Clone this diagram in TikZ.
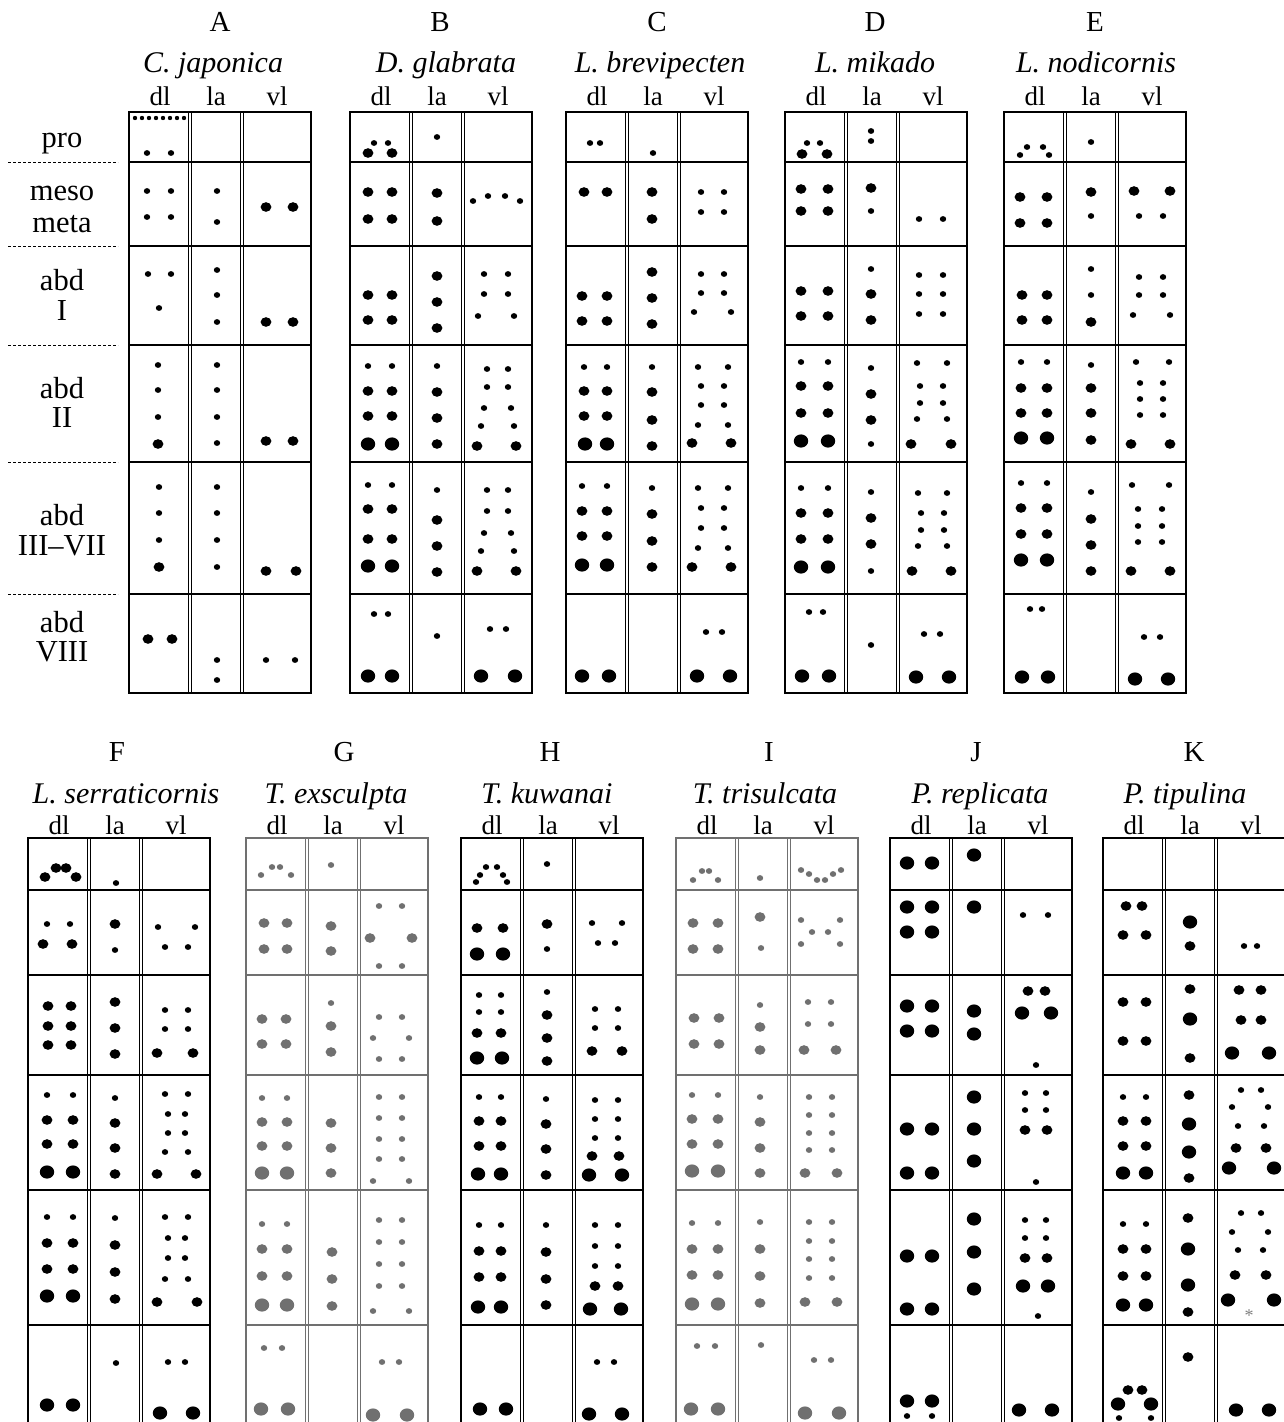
\documentclass[tikz,border=0pt]{standalone}
\usepackage{fontspec}
\setmainfont{Liberation Serif}
\definecolor{gpanel}{HTML}{707070}
\newcommand\spS[1]{\foreach \xa/\ya in {#1} {\fill (\xa,\ya) ellipse (3.2pt and 2.9pt);}}
\newcommand\spM[1]{\foreach \xa/\ya in {#1} {\fill (\xa,\ya) ellipse (5.4pt and 4.8pt);}}
\newcommand\spL[1]{\foreach \xa/\ya in {#1} {\fill (\xa,\ya) ellipse (7.2pt and 6.6pt);}}
\newcommand\spT[1]{\foreach \xa/\ya in {#1} {\fill (\xa,\ya) circle (2.2pt);}}
\newcommand\topframe{%
 \draw[rowl] (0,162) -- (182,162) (0,246) -- (182,246) (0,345) -- (182,345) (0,462) -- (182,462) (0,594) -- (182,594);
 \draw[coll] (59.6,112) -- (59.6,693) (62.4,112) -- (62.4,693) (111.6,112) -- (111.6,693) (114.4,112) -- (114.4,693);
 \draw[frm] (0,112) rectangle (182,693);}
\newcommand\botframe{%
 \draw[rowl] (0,890) -- (182,890) (0,975) -- (182,975) (0,1075) -- (182,1075) (0,1190) -- (182,1190) (0,1325) -- (182,1325);
 \draw[coll] (59.6,838) -- (59.6,1445) (62.4,838) -- (62.4,1445) (111.6,838) -- (111.6,1445) (114.4,838) -- (114.4,1445);
 \draw[frm] (0,838) rectangle (182,1445);}
\newcommand\colheads[2]{% #1 panel left, #2 baseline
 \node[colh] at (#1+31,#2) {dl};
 \node[colh] at (#1+87,#2) {la};
 \node[colh] at (#1+148,#2) {vl};}
\begin{document}
\begin{tikzpicture}[x=1pt,y=-1pt,
  rowl/.style={line width=1.1pt},
  coll/.style={line width=0.9pt},
  frm/.style={line width=2.2pt},
  lett/.style={anchor=base,inner sep=0pt,font=\fontsize{29}{30}\selectfont},
  spec/.style={anchor=base,inner sep=0pt,font=\fontsize{30}{32}\selectfont\itshape},
  colh/.style={anchor=base,inner sep=0pt,font=\fontsize{27}{28}\selectfont},
  rowlab/.style={anchor=base,inner sep=0pt,font=\fontsize{30.5}{32}\selectfont},
  sep/.style={line width=1pt,dash pattern=on 3pt off 2pt}]
\useasboundingbox (0,0) rectangle (1284,1422);
\clip (0,0) rectangle (1284,1422);
\fill[white] (0,0) rectangle (1284,1422);

% ---------- row labels ----------
\node[rowlab] (rpro) at (62,147) {pro};
\node[rowlab] (rmeso) at (62,200) {meso};
\node[rowlab] (rmeta) at (62,232) {meta};
\node[rowlab] (rabd1) at (62,290) {abd};
\node[rowlab] (rI) at (62,320) {I};
\node[rowlab] (rabd2) at (62,398) {abd};
\node[rowlab] (rII) at (62,427) {II};
\node[rowlab] (rabd3) at (62,525) {abd};
\node[rowlab] (rIII) at (62,555) {III--VII};
\node[rowlab] (rabd8) at (62,632) {abd};
\node[rowlab] (rVIII) at (62,661) {VIII};
\draw[sep] (8,162) -- (118,162) (8,246) -- (118,246) (8,345) -- (118,345) (8,462) -- (118,462) (8,594) -- (118,594);

% ---------- headers ----------
\node[lett] (hA) at (220,31) {A};
\node[lett] (hB) at (440,31) {B};
\node[lett] (hC) at (657,31) {C};
\node[lett] (hD) at (875,31) {D};
\node[lett] (hE) at (1095,31) {E};
\node[spec] (sA) at (213,72) {C.\ japonica};
\node[spec] (sB) at (446,72) {D.\ glabrata};
\node[spec] (sC) at (660,72) {L.\ brevipecten};
\node[spec] (sD) at (875,72) {L.\ mikado};
\node[spec] (sE) at (1096,72) {L.\ nodicornis};
\colheads{129}{105}\colheads{350}{105}\colheads{566}{105}\colheads{785}{105}\colheads{1004}{105}

\node[lett] (hF) at (117,761) {F};
\node[lett] (hG) at (344,761) {G};
\node[lett] (hH) at (550,761) {H};
\node[lett] (hI) at (769,761) {I};
\node[lett] (hJ) at (976,761) {J};
\node[lett] (hK) at (1194,761) {K};
\node[spec] (sF) at (126,803) {L.\ serraticornis};
\node[spec] (sG) at (336,803) {T.\ exsculpta};
\node[spec] (sH) at (547,803) {T.\ kuwanai};
\node[spec] (sI) at (765,803) {T.\ trisulcata};
\node[spec] (sJ) at (980,803) {P.\ replicata};
\node[spec] (sK) at (1185,803) {P.\ tipulina};
\colheads{28}{834}\colheads{246}{834}\colheads{461}{834}\colheads{676}{834}\colheads{890}{834}\colheads{1103}{834}

% ---------- A ----------
\begin{scope}[shift={(129,0)}]
\topframe
\spT{6/118,13/118,20/118,27/118,34/118,41/118,48/118,55/118}
\spS{18/153,42/153, 18/191,42/191,18/217,42/217, 88/191,88/222, 19/274,42/274,30/308, 88/270,88/295,88/322,
 29/365,29/390,29/417, 88/365,88/390,88/417,88/443, 30/487,30/513,30/540, 88/487,88/513,88/540,88/567,
 88/660,88/680, 137/660,166/660}
\spM{137/207,164/207, 137/322,164/322, 29/444, 137/441,164/441, 30/567, 137/571,167/571, 19/639,43/639}
\end{scope}

% ---------- B ----------
\begin{scope}[shift={(350,0)}]
\topframe
\spS{24/143,38/143, 87/137, 123/201,138/196,155/196,170/201, 134/274,158/274,134/294,158/294,128/316,164/316,
 18/366,42/366, 87/366, 137/369,158/369,137/387,158/387,134/408,161/408,131/426,164/426,
 18/485,42/485, 87/490, 137/490,158/490,137/511,158/511,134/533,161/533,131/551,164/551,
 24/614,38/614, 87/636, 140/629,156/629}
\spM{18/153,42/153, 18/192,42/192,18/219,42/219, 87/193,87/221, 18/295,42/295,18/320,42/320, 87/276,87/302,87/328,
 18/391,42/391,18/416,42/416, 87/392,87/418,87/444, 127/446,166/446,
 18/509,42/509,18/539,42/539, 87/520,87/546,87/572, 127/571,166/571}
\spL{18/444,42/444, 18/566,42/566, 18/676,42/676, 131/676,165/676}
\end{scope}

% ---------- C ----------
\begin{scope}[shift={(566,0)}]
\topframe
\spS{24/143,34/143, 87/153, 135/192,158/192,135/212,158/212, 135/274,158/274,135/293,158/293,128/312,165/312,
 18/367,41/367, 86/367, 132/367,162/367,135/386,158/386,135/405,158/405,132/425,162/425,
 16/486,41/486, 86/488, 132/488,162/488,135/508,158/508,135/528,158/528,132/548,162/548, 140/632,156/632}
\spM{18/192,41/192, 86/192,86/219, 16/296,41/296,16/321,41/321, 86/272,86/298,86/324,
 18/391,41/391,18/416,41/416, 86/392,86/420,86/446, 126/443,165/443,
 16/511,41/511,16/536,41/536, 86/514,86/541,86/567, 126/567,165/567}
\spL{19/444,41/444, 16/565,41/565, 16/676,43/676, 131/676,164/676}
\end{scope}

% ---------- D ----------
\begin{scope}[shift={(785,0)}]
\topframe
\spS{22/143,35/143, 86/131,86/141, 86/211, 134/219,158/219, 86/269, 134/275,158/275,134/294,158/294,134/314,158/314,
 16/362,43/362, 86/368,86/444, 132/363,162/363,135/386,158/386,135/403,158/403,132/419,162/419,
 16/488,43/488, 86/492,86/571, 133/493,162/493,136/513,159/513,136/530,159/530,133/546,162/546,
 24/612,38/612, 86/645, 139/634,155/634}
\spM{17/154,42/154, 16/189,43/189,16/211,43/211, 86/188, 16/291,43/291,16/316,43/316, 86/294,86/320,
 16/386,43/386,16/413,43/413, 86/394,86/420, 126/444,166/444,
 16/513,43/513,16/539,43/539, 86/518,86/544, 127/571,166/571}
\spL{16/441,43/441, 16/567,43/567, 17/676,44/676, 131/677,164/677}
\end{scope}

% ---------- E ----------
\begin{scope}[shift={(1004,0)}]
\topframe
\spS{16/155,23/147,39/147,45/155, 87/142, 87/216, 135/216,159/216, 87/269,87/295,
 135/277,159/277,135/295,159/295,129/315,166/315,
 17/362,43/362, 87/365, 132/362,165/362,136/383,159/383,136/399,159/399,136/415,159/415,
 17/483,43/483, 87/492, 128/485,165/485,134/509,158/509,134/526,158/526,134/542,158/542,
 26/609,38/609, 140/637,156/637}
\spM{16/197,43/197,16/223,43/223, 87/192, 130/191,166/191, 18/295,43/295,18/320,43/320, 87/322,
 17/388,43/388,17/413,43/413, 87/388,87/413,87/440, 127/444,166/444,
 17/508,43/508,17/534,43/534, 87/519,87/545,87/571, 127/571,166/571}
\spL{17/438,43/438, 17/560,43/560, 18/677,44/677, 131/679,164/679}
\end{scope}

% ---------- F ----------
\begin{scope}[shift={(28,0)}]
\botframe
\spS{88/883, 19/924,42/924, 87/950, 130/927,167/927,137/947,160/947, 137/1010,160/1010,137/1029,160/1029,
 19/1095,45/1095, 87/1098, 137/1094,160/1094,140/1114,157/1114,140/1133,157/1133,137/1152,160/1152,
 19/1217,45/1217, 87/1218, 137/1217,160/1217,140/1238,157/1238,140/1258,157/1258,137/1279,160/1279,
 88/1363, 140/1362,157/1362}
\spM{17/877,28/868,38/868,48/877, 15/944,44/944, 87/924, 20/1006,43/1006,20/1026,43/1026,20/1045,43/1045,
 87/1002,87/1028,87/1054, 129/1053,165/1053, 19/1120,45/1120,19/1144,45/1144, 87/1123,87/1148,87/1174,
 129/1174,168/1174, 19/1243,45/1243,19/1269,45/1269, 87/1245,87/1272,87/1299, 129/1302,169/1302}
\spL{19/1172,45/1172, 19/1296,45/1296, 19/1405,45/1405, 132/1413,165/1413}
\end{scope}

% ---------- G ----------
\begin{scope}[shift={(246,0)},color=gpanel]
\botframe
\spS{15/875,26/867,34/867,45/875, 85/865, 133/906,156/906,133/966,156/966, 85/1003,
 133/1017,156/1017,127/1038,163/1038,133/1059,156/1059, 16/1098,41/1098,
 133/1097,156/1097,133/1118,156/1118,133/1139,156/1139,133/1159,156/1159,127/1181,163/1181,
 16/1224,41/1224, 133/1220,156/1220,133/1242,156/1242,133/1264,156/1264,133/1286,156/1286,127/1311,163/1311,
 18/1348,36/1348, 136/1362,153/1362}
\spM{18/923,41/923,18/949,41/949, 85/926,85/951, 124/938,166/938, 16/1019,40/1019,16/1044,40/1044,
 85/1026,85/1052, 16/1122,41/1122,16/1146,41/1146, 85/1123,85/1148,85/1173,
 16/1249,41/1249,16/1276,41/1276, 86/1252,86/1279,86/1306}
\spL{16/1173,41/1173, 16/1305,41/1305, 15/1409,42/1409, 127/1415,161/1415}
\end{scope}

% ---------- H ----------
\begin{scope}[shift={(461,0)}]
\botframe
\spS{15/882,19/875,25/867,36/867,42/875,46/882, 86/864, 86/949, 131/923,161/923,137/943,154/943,
 18/995,40/995,18/1012,40/1012, 86/992, 134/1009,157/1009,134/1028,157/1028,
 18/1097,40/1097, 85/1099, 134/1100,157/1100,134/1119,157/1119,134/1138,157/1138,
 18/1225,40/1225, 85/1225, 134/1225,157/1225,134/1246,157/1246,134/1266,157/1266, 136/1362,153/1362}
\spM{16/928,42/928, 86/924, 16/1033,40/1033, 86/1015,86/1038,86/1061, 131/1051,161/1051,
 18/1121,40/1121,18/1146,40/1146, 85/1124,85/1149,85/1175, 131/1156,158/1156,
 18/1251,40/1251,18/1277,40/1277, 85/1252,85/1279,85/1305, 134/1286,157/1286}
\spL{16/954,42/954, 16/1058,41/1058, 17/1174,40/1174, 128/1175,161/1175, 17/1307,40/1307, 129/1309,160/1309,
 19/1409,45/1409, 128/1414,161/1414}
\end{scope}

% ---------- I ----------
\begin{scope}[shift={(676,0)},color=gpanel]
\botframe
\spS{17/880,26/871,33/871,42/880, 84/878, 125/870,133/874,141/880,149/880,157/874,165/870, 85/948,
 125/920,136/932,152/932,164/920,125/944,164/944, 84/1005, 132/1002,155/1002,132/1024,155/1024,
 16/1095,42/1095, 84/1097, 133/1097,156/1097,133/1115,156/1115,133/1133,156/1133,133/1150,156/1150,
 16/1223,42/1223, 84/1222, 133/1222,156/1222,133/1241,156/1241,133/1259,156/1259,133/1278,156/1278,
 21/1346,39/1346, 85/1345, 138/1360,155/1360}
\spM{17/923,42/923,17/949,42/949, 84/917, 18/1018,43/1018,18/1044,43/1044, 84/1027,84/1050, 128/1050,160/1050,
 16/1119,42/1119,16/1144,42/1144, 84/1122,84/1148,84/1173, 129/1173,161/1173,
 16/1249,42/1249,16/1275,42/1275, 84/1249,84/1276,84/1303, 129/1302,161/1302}
\spL{16/1171,42/1171, 16/1304,42/1304, 15/1409,42/1409, 129/1413,163/1413}
\end{scope}

% ---------- J ----------
\begin{scope}[shift={(890,0)}]
\botframe
\spS{133/915,158/915, 146/1065, 135/1093,156/1093,135/1110,156/1110, 146/1182,
 135/1220,156/1220,135/1238,156/1238, 148/1316, 17/1416,42/1416}
\spM{138/991,155/991, 135/1130,157/1130, 135/1258,157/1258}
\spL{17/863,42/863, 84/855, 17/907,42/907,17/932,42/932, 84/907, 17/1006,42/1006,17/1031,42/1031,
 84/1011,84/1034, 132/1013,161/1013, 17/1129,42/1129,17/1173,42/1173, 84/1097,84/1129,84/1161,
 17/1256,42/1256,17/1309,42/1309, 84/1219,84/1252,84/1289, 133/1286,158/1286, 17/1401,42/1401, 129/1410,162/1410}
\end{scope}

% ---------- K ----------
\begin{scope}[shift={(1103,0)}]
\botframe
\spS{141/946,154/946, 20/1097,43/1097, 138/1090,158/1090,129/1107,165/1107,135/1126,161/1126,
 20/1224,43/1224, 138/1213,158/1213,129/1232,165/1232,135/1250,160/1250, 16/1418,48/1418}
\spM{23/906,39/906,20/935,43/935, 87/946, 20/1002,43/1002,20/1041,43/1041, 87/989,87/1058,
 136/990,158/990,138/1020,158/1020, 20/1121,43/1121,20/1146,43/1146, 86/1095,86/1178, 133/1148,163/1148,
 20/1249,43/1249,20/1276,43/1276, 85/1218,85/1312, 132/1275,163/1275, 25/1390,39/1390, 85/1357}
\spL{87/922, 87/1019, 129/1053,166/1053, 20/1173,43/1173, 86/1124,86/1152, 126/1168,171/1168,
 20/1305,43/1305, 85/1249,85/1285, 125/1300,171/1300, 15/1404,48/1404, 133/1410,166/1410}
\node[gray,inner sep=0pt,font=\fontsize{18}{18}\selectfont] (ast) at (146,1316) {*};
\end{scope}
\end{tikzpicture}
\end{document}
